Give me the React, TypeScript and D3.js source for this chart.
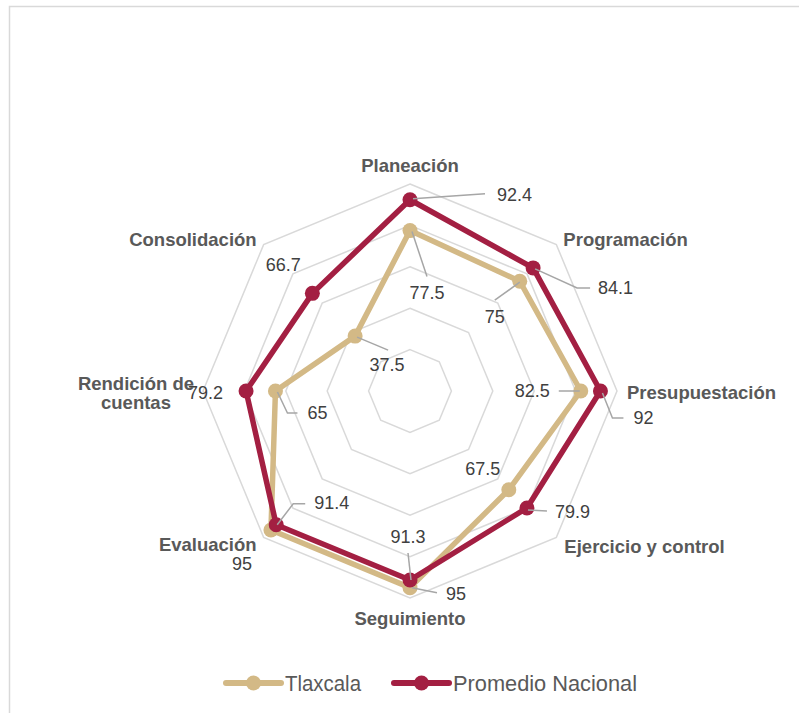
import React from "react";
import * as d3 from "d3";

const categories = [
  "Planeación",
  "Programación",
  "Presupuestación",
  "Ejercicio y control",
  "Seguimiento",
  "Evaluación",
  "Rendición de cuentas",
  "Consolidación",
];
const tlaxcala = [77.5, 75, 82.5, 67.5, 95, 95, 65, 37.5];
const promedio = [92.4, 84.1, 92, 79.9, 91.3, 91.4, 79.2, 66.7];
const gridLevels = [20, 40, 60, 80, 100];
const seriesNames = ["Tlaxcala", "Promedio Nacional"];

// layout / style config
const W = 799;
const H = 713;
const CX = 410;
const CY = 391;
const R = 207;
const colors = ["#D3B986", "#A31F42"];

type Lbl = { dx: number; dy: number; anchor: string; leader?: [number, number][] };

const tlaxLabels: Lbl[] = [
  { dx: 17, dy: 62, anchor: "middle", leader: [[2, 1], [17, 46]] },
  { dx: -25, dy: 36, anchor: "middle", leader: [[0, 1], [-25, 19]] },
  { dx: -31, dy: 0, anchor: "end", leader: [[-1, 0], [-22, 0]] },
  { dx: -26, dy: -21, anchor: "middle" },
  { dx: 36, dy: 6, anchor: "start", leader: [[2, 0], [27, 5]] },
  { dx: -29, dy: 34, anchor: "middle" },
  { dx: 32, dy: 22, anchor: "start", leader: [[2, 1], [12, 22], [22, 22]] },
  { dx: 32, dy: 29, anchor: "middle", leader: [[2, 1], [33, 14]] },
];
const promLabels: Lbl[] = [
  { dx: 87, dy: -5, anchor: "start", leader: [[3, -1], [75, -6]] },
  { dx: 65, dy: 20, anchor: "start", leader: [[2, 1], [44, 20], [57, 20]] },
  { dx: 33, dy: 27, anchor: "start", leader: [[2, 2], [12, 27], [23, 27]] },
  { dx: 28, dy: 4, anchor: "start", leader: [[1, 2], [20, 3]] },
  { dx: -2, dy: -43, anchor: "middle", leader: [[1, 0], [-2, -27]] },
  { dx: 38, dy: -22, anchor: "start", leader: [[1, 0], [17, -21], [29, -21]] },
  { dx: -23, dy: 2, anchor: "end" },
  { dx: -29, dy: -28, anchor: "middle" },
];
const catLabels: { dx: number; dy: number; anchor: string }[] = [
  { dx: 0, dy: -19, anchor: "middle" },
  { dx: 7, dy: -6, anchor: "start" },
  { dx: 10, dy: 1, anchor: "start" },
  { dx: 8, dy: 9, anchor: "start" },
  { dx: 0, dy: 20, anchor: "middle" },
  { dx: -7, dy: 7, anchor: "end" },
  { dx: -67, dy: -8, anchor: "middle" },
  { dx: -7, dy: -6, anchor: "end" },
];

const r = d3.scaleLinear().domain([0, 100]).range([0, R]);
const angle = d3
  .scaleLinear()
  .domain([0, categories.length])
  .range([0, 2 * Math.PI]);

function pt(i: number, v: number): [number, number] {
  const a = angle(i);
  return [CX + r(v) * Math.sin(a), CY - r(v) * Math.cos(a)];
}

const lineGen = d3
  .line<[number, number]>()
  .x((d) => d[0])
  .y((d) => d[1])
  .curve(d3.curveLinearClosed);

export default function App() {
  const series = [tlaxcala, promedio];
  const labelSets = [tlaxLabels, promLabels];
  return (
    <svg
      width={W}
      height={H}
      style={{ position: "absolute", left: 0, top: 0, background: "#fff" }}
      fontFamily="'Liberation Sans', Arial, sans-serif"
    >
      {/* frame */}
      <path d={`M9.5,${H} L9.5,6.5 L${W},6.5`} fill="none" stroke="#d9d9d9" strokeWidth={1.5} />
      {/* grid */}
      {gridLevels.map((lv) => (
        <path
          key={lv}
          d={lineGen(categories.map((_, i) => pt(i, lv))) || ""}
          fill="none"
          stroke="#d9d9d9"
          strokeWidth={1.5}
        />
      ))}
      {/* category labels */}
      {categories.map((c, i) => {
        const [x, y] = pt(i, 100);
        const L = catLabels[i];
        const lines = c === "Rendición de cuentas" ? ["Rendición de", "cuentas"] : [c];
        return (
          <text
            key={c}
            x={x + L.dx}
            y={y + L.dy}
            textAnchor={L.anchor}
            fontSize={18.5}
            fontWeight="bold"
            fill="#595959"
            dominantBaseline="central"
          >
            {lines.map((ln, k) => (
              <tspan key={k} x={x + L.dx} dy={k === 0 ? 0 : 19}>
                {ln}
              </tspan>
            ))}
          </text>
        );
      })}
      {/* series */}
      {series.map((s, si) => {
        const pts = s.map((v, i) => pt(i, v));
        return (
          <g key={si}>
            <path
              d={lineGen(pts) || ""}
              fill="none"
              stroke={colors[si]}
              strokeWidth={5.5}
              strokeLinejoin="round"
            />
            {pts.map((p, i) => (
              <circle key={i} cx={p[0]} cy={p[1]} r={7.5} fill={colors[si]} />
            ))}
          </g>
        );
      })}
      {/* data labels */}
      {series.map((s, si) =>
        s.map((v, i) => {
          const [x, y] = pt(i, v);
          const L = labelSets[si][i];
          return (
            <g key={`${si}-${i}`}>
              {L.leader && (
                <polyline
                  points={L.leader.map((o) => `${x + o[0]},${y + o[1]}`).join(" ")}
                  fill="none"
                  stroke="#a6a6a6"
                  strokeWidth={1.5}
                />
              )}
              <text
                x={x + L.dx}
                y={y + L.dy}
                textAnchor={L.anchor}
                dominantBaseline="central"
                fontSize={18}
                fill="#404040"
              >
                {String(v)}
              </text>
            </g>
          );
        })
      )}
      {/* legend */}
      {seriesNames.map((n, si) => {
        const x0 = si === 0 ? 226 : 394;
        const y0 = 683;
        const tl = si === 0 ? 76 : 184;
        return (
          <g key={n}>
            <line x1={x0} x2={x0 + 55} y1={y0} y2={y0} stroke={colors[si]} strokeWidth={6} strokeLinecap="round" />
            <circle cx={x0 + 27.5} cy={y0} r={7.5} fill={colors[si]} />
            <text
              x={x0 + 59}
              y={y0}
              dominantBaseline="central"
              fontSize={22}
              fill="#595959"
              textLength={tl}
              lengthAdjust="spacingAndGlyphs"
            >
              {n}
            </text>
          </g>
        );
      })}
    </svg>
  );
}
